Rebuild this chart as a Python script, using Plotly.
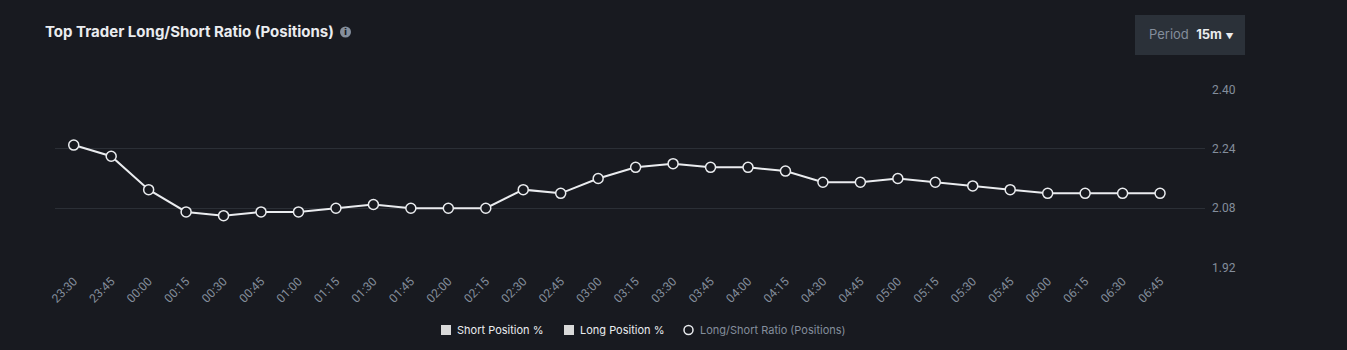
import plotly.graph_objects as go

times = ["23:30", "23:45", "00:00", "00:15", "00:30", "00:45", "01:00", "01:15", "01:30", "01:45",
         "02:00", "02:15", "02:30", "02:45", "03:00", "03:15", "03:30", "03:45", "04:00", "04:15",
         "04:30", "04:45", "05:00", "05:15", "05:30", "05:45", "06:00", "06:15", "06:30", "06:45"]
ratio = [2.25, 2.22, 2.13, 2.07, 2.06, 2.07, 2.07, 2.08, 2.09, 2.08,
         2.08, 2.08, 2.13, 2.12, 2.16, 2.19, 2.20, 2.19, 2.19, 2.18,
         2.15, 2.15, 2.16, 2.15, 2.14, 2.13, 2.12, 2.12, 2.12, 2.12]
y_ticks = [1.92, 2.08, 2.24, 2.40]
y_labels = ["1.92", "2.08", "2.24", "2.40"]

BG = "#181a20"
GRID = "#2b2f36"
MUTED = "#848e9c"
TEXT = "#eaecef"

fig = go.Figure()
fig.add_trace(go.Scatter(
    x=times, y=ratio, mode="lines+markers",
    line=dict(color=TEXT, width=2),
    marker=dict(symbol="circle", size=10, color=BG, line=dict(color=TEXT, width=1.5)),
    showlegend=False, hoverinfo="x+y",
))

fig.update_layout(
    width=1347, height=350,
    paper_bgcolor=BG, plot_bgcolor=BG,
    margin=dict(l=55, r=142, t=89, b=82),
    font=dict(family="Roboto", color=MUTED, size=11),
    xaxis=dict(type="category", range=[-0.5, 30.2], showgrid=False, zeroline=False,
               showline=False, tickangle=-45, tickfont=dict(size=12, color=MUTED),
               ticks="", ticklabelstandoff=3),
    yaxis=dict(side="right", range=[1.919, 2.401], tickvals=y_ticks, ticktext=y_labels,
               showgrid=True, gridcolor=GRID, gridwidth=1, zeroline=False, showline=False,
               ticks="", tickfont=dict(size=12, color=MUTED), ticklabelstandoff=6),
)

# Title and info icon
fig.add_annotation(xref="paper", yref="paper", x=(43 - 55) / 1150, y=1.0, xanchor="left", yanchor="middle",
                   text="<b>Top Trader Long/Short Ratio (Positions)</b>", showarrow=False,
                   font=dict(family="Inter", size=15, color=TEXT), yshift=89 - 31)
fig.add_shape(type="circle", xref="paper", yref="paper", layer="below",
              x0=(340 - 55) / 1150, x1=(351 - 55) / 1150,
              y0=(268 - 37.5) / 179, y1=(268 - 26.5) / 179,
              fillcolor=MUTED, line=dict(width=0))
fig.add_annotation(xref="paper", yref="paper", x=(345.5 - 55) / 1150, y=(268 - 32) / 179,
                   xanchor="center", yanchor="middle",
                   text="<b>i</b>", showarrow=False, font=dict(family="DejaVu Sans", size=9, color=BG))

# Period button
fig.add_shape(type="rect", xref="paper", yref="paper", layer="below",
              x0=(1135 - 55) / 1150, x1=(1245 - 55) / 1150,
              y0=(268 - 55) / 179, y1=(268 - 15) / 179,
              fillcolor="#2b3139", line=dict(width=0))
fig.add_annotation(xref="paper", yref="paper", x=(1147 - 55) / 1150, y=(268 - 34) / 179,
                   xanchor="left", yanchor="middle", showarrow=False,
                   text="<span style='color:#848e9c'>Period</span>  <b>15m</b> <span style='font-size:8px'>▼</span>",
                   font=dict(family="Inter", size=13, color=TEXT))

# Legend (drawn manually)
leg_y = (268 - 330) / 179
sq_h = 10 / 179
for x0, label, col in [(441, "Short Position %", "#d9d9d9"), (564, "Long Position %", "#d9d9d9")]:
    fig.add_shape(type="rect", xref="paper", yref="paper",
                  x0=(x0 - 55) / 1150, x1=(x0 + 10 - 55) / 1150,
                  y0=leg_y - sq_h / 2, y1=leg_y + sq_h / 2,
                  fillcolor=col, line=dict(width=0))
    fig.add_annotation(xref="paper", yref="paper", x=(x0 + 14 - 55) / 1150, y=leg_y,
                       xanchor="left", yanchor="middle", showarrow=False, text=label,
                       font=dict(family="Inter", size=11, color=TEXT))
fig.add_shape(type="circle", xref="paper", yref="paper",
              x0=(684 - 55) / 1150, x1=(693 - 55) / 1150,
              y0=leg_y - 9 / 179 / 2, y1=leg_y + 9 / 179 / 2,
              fillcolor=BG, line=dict(color=TEXT, width=1.5))
fig.add_annotation(xref="paper", yref="paper", x=(698 - 55) / 1150, y=leg_y,
                   xanchor="left", yanchor="middle", showarrow=False,
                   text="Long/Short Ratio (Positions)",
                   font=dict(family="Inter", size=11, color=MUTED))

fig.write_html("out.html")
